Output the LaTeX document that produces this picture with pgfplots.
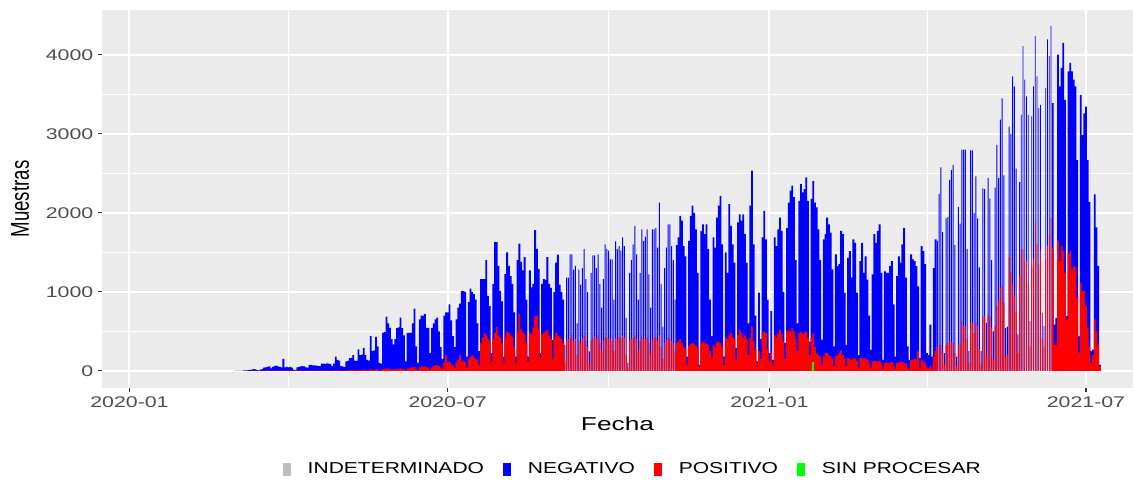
\documentclass[border=0pt]{standalone}
\usepackage{graphicx}
\usepackage{fontspec}
\setmainfont{Liberation Sans}
\usepackage{pgfplots}
\usepackage{pgfplotstable}
\pgfplotsset{compat=1.18}
\definecolor{ggbg}{HTML}{EBEBEB}
\definecolor{ticktext}{HTML}{4D4D4D}
\definecolor{tickcol}{HTML}{333333}
\definecolor{negblue}{HTML}{0000FF}
\definecolor{posred}{HTML}{FF0000}
\definecolor{sinproc}{HTML}{00FF00}
\definecolor{indet}{HTML}{BEBEBE}
\newcommand{\wide}[1]{\scalebox{1.38}[1]{#1}}
\pgfplotsset{mybar/.style={ybar, bar shift=0pt, draw=none, forget plot}}

\pgfplotstableread[row sep=\\]{
t tot pos\\
61 0 0\\62 0 0\\63 0 0\\64 0 0\\65 3 0\\66 5 0\\67 2 0\\
68 8 0\\69 12 0\\70 15 0\\71 20 1\\72 18 0\\73 10 0\\74 5 0\\
75 15 0\\76 22 1\\77 40 1\\78 45 2\\79 50 2\\80 55 2\\81 30 1\\
82 50 2\\83 60 3\\84 65 3\\85 55 2\\86 50 2\\87 45 2\\88 150 3\\
89 45 2\\90 50 3\\91 45 2\\92 50 3\\93 40 2\\94 15 1\\95 10 1\\
96 45 2\\97 50 3\\98 55 3\\99 60 3\\100 55 3\\101 45 2\\102 40 2\\
103 75 3\\104 75 4\\105 70 3\\106 70 4\\107 65 3\\108 60 3\\109 60 3\\
110 90 4\\111 92 4\\112 88 4\\113 95 5\\114 90 4\\115 85 4\\116 60 3\\
117 90 4\\118 180 8\\119 140 6\\120 130 6\\121 60 3\\122 55 3\\123 50 2\\
124 120 6\\125 125 6\\126 160 8\\127 165 8\\128 200 10\\129 130 6\\130 125 5\\
131 270 12\\132 200 10\\133 205 10\\134 290 14\\135 200 10\\136 140 7\\137 130 6\\
138 440 20\\139 250 12\\140 260 12\\141 430 20\\142 310 15\\143 100 5\\144 90 4\\
145 480 20\\146 490 22\\147 685 30\\148 600 28\\149 545 25\\150 400 18\\151 335 15\\
152 400 18\\153 540 25\\154 550 25\\155 672 30\\156 540 25\\157 450 20\\158 120 8\\
159 480 25\\160 480 30\\161 480 40\\162 600 45\\163 787 50\\164 310 25\\165 100 10\\
166 650 40\\167 700 60\\168 700 50\\169 720 55\\170 545 45\\171 545 40\\172 225 15\\
173 545 50\\174 600 60\\175 650 70\\176 672 80\\177 500 60\\178 300 40\\179 150 20\\
180 700 100\\181 740 200\\182 740 110\\183 840 120\\184 640 90\\185 440 70\\186 300 40\\
187 650 100\\188 800 140\\189 850 200\\190 1010 120\\191 1010 130\\192 1000 110\\193 180 40\\
194 870 150\\195 1040 180\\196 1000 200\\197 970 170\\198 900 150\\199 600 140\\200 250 80\\
201 1160 350\\202 1160 420\\203 1160 480\\204 1400 450\\205 950 400\\206 820 380\\207 225 120\\
208 1100 400\\209 1630 480\\210 1630 557\\211 1330 450\\212 1010 420\\213 880 350\\214 180 100\\
215 1225 420\\216 1500 500\\217 1330 480\\218 1200 450\\219 1100 430\\220 740 300\\221 180 100\\
222 1400 500\\223 1610 720\\224 1380 520\\225 1270 480\\226 1440 460\\227 900 350\\228 180 120\\
229 1270 480\\230 1055 460\\231 1100 550\\232 1780 690\\233 1545 700\\234 1290 520\\235 225 150\\
236 1100 460\\237 1160 480\\238 1150 500\\239 1440 520\\240 1100 450\\241 1050 400\\242 390 150\\
243 1000 420\\244 1370 480\\245 1470 450\\246 1090 430\\247 1000 400\\248 900 350\\249 330 120\\
250 1180 380\\251 1180 400\\252 1475 420\\253 1475 450\\254 1280 380\\255 1330 400\\256 600 200\\
257 1280 380\\258 1090 350\\259 1300 420\\260 1540 450\\261 1160 380\\262 1000 300\\263 245 80\\
264 1240 380\\265 1460 420\\266 1460 430\\267 1300 400\\268 1475 450\\269 1100 350\\270 800 250\\
271 1160 380\\272 1600 430\\273 1540 420\\274 1520 410\\275 1410 400\\276 1410 380\\277 900 250\\
278 1640 420\\279 1540 400\\280 1580 430\\281 1520 410\\282 1690 450\\283 1580 420\\284 670 200\\
285 105 40\\286 1240 380\\287 1400 400\\288 1600 420\\289 1835 450\\290 1475 400\\291 900 250\\
292 1240 380\\293 1790 430\\294 1645 410\\295 1700 400\\296 1790 420\\297 1220 350\\298 800 220\\
299 1790 400\\300 1790 420\\301 1810 430\\302 1560 380\\303 2130 450\\304 1100 300\\305 560 150\\
306 1300 350\\307 1560 380\\308 1855 420\\309 1855 410\\310 1580 380\\311 1400 350\\312 900 250\\
313 1590 350\\314 1690 380\\315 1960 400\\316 1900 350\\317 1580 300\\318 1450 280\\319 180 80\\
320 1645 320\\321 1960 340\\322 2090 350\\323 2000 340\\324 1790 320\\325 1240 300\\326 75 55\\
327 1770 350\\328 1855 360\\329 1730 350\\330 1855 340\\331 1540 330\\332 900 250\\333 440 160\\
334 1690 330\\335 1560 300\\336 1940 360\\337 2090 370\\338 2215 350\\339 1600 300\\340 180 75\\
341 1500 420\\342 1240 400\\343 2110 450\\344 1835 480\\345 1600 430\\346 1370 400\\347 290 140\\
348 1880 450\\349 1980 520\\350 1900 480\\351 1980 420\\352 1730 450\\353 1370 400\\354 600 200\\
355 2090 420\\356 2534 560\\357 1600 380\\358 700 270\\359 120 90\\360 990 250\\361 400 150\\
362 1690 480\\363 2025 500\\364 1665 480\\365 900 270\\366 225 120\\367 755 230\\368 140 80\\
369 1690 450\\370 1580 420\\371 1790 480\\372 1940 520\\373 1770 470\\374 1000 370\\375 350 150\\
376 1810 500\\377 2130 510\\378 2280 500\\379 2343 540\\380 2200 500\\381 1400 400\\382 600 250\\
383 2150 480\\384 2364 490\\385 2260 470\\386 2300 480\\387 2450 500\\388 2150 420\\389 370 200\\
390 2175 420\\391 2400 480\\392 2130 300\\393 2070 220\\394 1790 200\\395 1400 180\\396 395 80\\
397 1665 180\\398 1730 225\\399 1940 225\\400 1855 200\\401 1750 180\\402 1285 150\\403 310 50\\
404 1475 180\\405 1325 200\\406 1350 225\\407 1770 255\\408 1730 200\\409 990 150\\410 330 50\\
411 1430 160\\412 1515 150\\413 1180 140\\414 1665 160\\415 1620 150\\416 990 120\\417 200 30\\
418 1390 160\\419 1620 160\\420 1240 150\\421 1450 160\\422 1155 140\\423 700 100\\424 265 30\\
425 1220 120\\426 1730 130\\427 1620 120\\428 1770 120\\429 1855 125\\430 1240 100\\431 140 20\\
432 1260 100\\433 1240 105\\434 1240 100\\435 1325 100\\436 1390 110\\437 840 80\\438 180 25\\
439 1200 100\\440 1450 100\\441 1370 110\\442 1600 120\\443 1810 100\\444 1180 90\\445 310 30\\
446 140 25\\447 1475 140\\448 1410 140\\449 1390 150\\450 1325 140\\451 1070 245\\452 160 30\\
453 1580 140\\454 1515 120\\455 1350 100\\456 225 40\\457 200 30\\458 585 55\\459 180 25\\
460 1300 180\\461 1665 250\\462 1645 310\\463 2240 330\\464 2575 330\\465 1757 225\\466 225 80\\
467 1930 330\\468 1950 350\\469 2417 375\\470 2545 360\\471 2608 350\\472 1590 225\\473 180 60\\
474 2076 330\\475 1864 330\\476 2800 630\\477 2800 565\\478 2800 565\\479 1545 400\\480 250 100\\
481 2790 608\\482 2790 608\\483 2000 480\\484 2460 608\\485 1930 565\\486 1310 270\\487 250 90\\
488 2310 690\\489 2300 690\\490 608 200\\491 2440 715\\492 2180 690\\493 1400 545\\494 500 150\\
495 2320 565\\496 2860 820\\497 2440 885\\498 3180 1055\\499 3450 1075\\500 2475 860\\501 543 180\\
502 560 200\\503 3090 1443\\504 3000 1244\\505 3728 1100\\506 3600 947\\507 2560 750\\508 460 225\\
509 2390 1200\\510 3240 1540\\511 4110 1540\\512 3685 1393\\513 3473 1393\\514 3240 1100\\515 630 310\\
516 3220 1330\\517 3600 1414\\518 4237 1872\\519 3728 1605\\520 3325 1350\\521 3367 1520\\522 735 416\\
523 565 310\\524 3580 1414\\525 4195 1584\\526 3983 1720\\527 4365 1936\\528 3390 1550\\529 586 331\\
530 670 331\\531 4004 1647\\532 3600 1393\\533 3834 1584\\534 4152 1520\\535 3430 1244\\536 692 650\\
537 3790 1478\\538 3898 1520\\539 3790 1265\\540 3685 1330\\541 3600 1308\\542 2666 926\\543 437 225\\
544 3494 1117\\545 2985 1010\\546 3260 1010\\547 3345 820\\548 2666 543\\549 2135 300\\550 250 100\\
551 267 200\\552 2233 650\\553 1817 500\\554 1330 331\\555 76 55\\
}\data

\begin{document}
\begin{tikzpicture}
\begin{axis}[
  name=ax,
  scale only axis, width=773.25pt, height=283.5pt,
  xmin=-15.7, xmax=573.9, ymin=-217.5, ymax=4567.5,
  axis background/.style={fill=ggbg},
  axis line style={draw=none},
  tick pos=left, tick align=outside,
  major tick length=3pt, minor tick length=0pt,
  major tick style={tickcol, line width=0.8pt},
  xtick={0,182,366,547},
  xticklabels={\wide{2020-01},\wide{2020-07},\wide{2021-01},\wide{2021-07}},
  minor xtick={91,274,456.5},
  ytick={0,1000,2000,3000,4000},
  yticklabels={\wide{0},\wide{1000},\wide{2000},\wide{3000},\wide{4000}},
  minor ytick={500,1500,2500,3500},
  grid=both,
  major grid style={white, line width=1.5pt},
  minor grid style={white, line width=0.75pt},
  tick label style={font=\fontsize{11.6}{13}\selectfont, text=ticktext},
  xlabel={\scalebox{1.41}[1]{Fecha}},
  ylabel={\scalebox{1}[1.38]{Muestras}},
  label style={font=\fontsize{14}{16}\selectfont},
  xlabel style={at={(axis description cs:0.5,-0.095)}, anchor=center},
  ylabel style={at={(axis description cs:-0.0795,0.5)}, anchor=center},
  legend columns=-1,
  legend style={draw=none, fill=none, at={(0.515,-0.214)}, anchor=center,
    font=\fontsize{11.85}{13}\selectfont,
    /tikz/every odd column/.append style={column sep=11.25pt},
    /tikz/every even column/.append style={column sep=12pt}},
]
\addlegendimage{legend image code/.code={\fill[indet] (0pt,-4.5pt) rectangle (5.25pt,4.5pt);}}
\addlegendentry{\scalebox{1.33}[1]{INDETERMINADO}}
\addlegendimage{legend image code/.code={\fill[negblue] (0pt,-4.5pt) rectangle (5.25pt,4.5pt);}}
\addlegendentry{\scalebox{1.33}[1]{NEGATIVO}}
\addlegendimage{legend image code/.code={\fill[posred] (0pt,-4.5pt) rectangle (5.25pt,4.5pt);}}
\addlegendentry{\scalebox{1.33}[1]{POSITIVO}}
\addlegendimage{legend image code/.code={\fill[sinproc] (0pt,-4.5pt) rectangle (5.25pt,4.5pt);}}
\addlegendentry{\scalebox{1.33}[1]{SIN PROCESAR}}

% totals (NEGATIVO stacked on top of POSITIVO)
\addplot[mybar, fill=negblue, bar width=1.05, restrict x to domain=0:248.5] table[x=t,y=tot]{\data};
\addplot[mybar, fill=negblue, bar width=0.55, restrict x to domain=248.5:312.5] table[x=t,y=tot]{\data};
\addplot[mybar, fill=negblue, bar width=1.05, restrict x to domain=312.5:461.5] table[x=t,y=tot]{\data};
\addplot[mybar, fill=negblue, bar width=0.55, restrict x to domain=461.5:527.5] table[x=t,y=tot]{\data};
\addplot[mybar, fill=negblue, bar width=1.05, restrict x to domain=527.5:600] table[x=t,y=tot]{\data};
% POSITIVO
\addplot[mybar, fill=posred, bar width=1.05, restrict x to domain=0:248.5] table[x=t,y=pos]{\data};
\addplot[mybar, fill=posred, bar width=0.55, restrict x to domain=248.5:312.5] table[x=t,y=pos]{\data};
\addplot[mybar, fill=posred, bar width=1.05, restrict x to domain=312.5:461.5] table[x=t,y=pos]{\data};
\addplot[mybar, fill=posred, bar width=0.55, restrict x to domain=461.5:527.5] table[x=t,y=pos]{\data};
\addplot[mybar, fill=posred, bar width=1.05, restrict x to domain=527.5:600] table[x=t,y=pos]{\data};
% SIN PROCESAR
\addplot[mybar, fill=sinproc, bar width=1.05] coordinates {(391,110)};
\end{axis}
\pgfresetboundingbox
\path ([shift={(-76.5pt,-68.25pt)}]ax.south west) rectangle ([shift={(1.5pt,7.5pt)}]ax.north east);
\end{tikzpicture}
\end{document}
